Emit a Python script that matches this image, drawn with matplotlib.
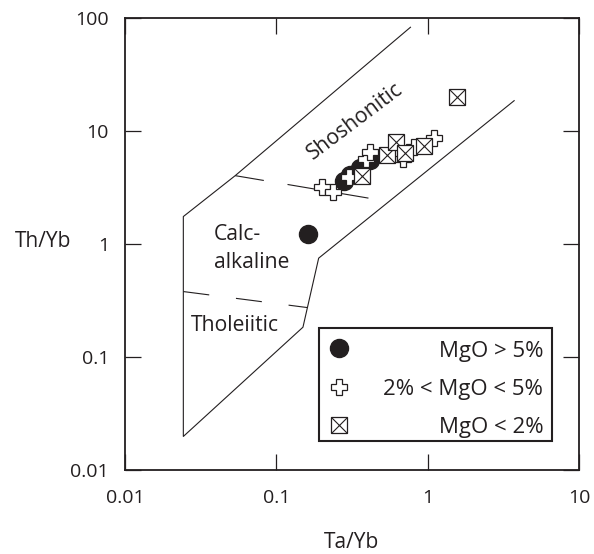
import matplotlib.pyplot as plt
from matplotlib.patches import Rectangle
from matplotlib.ticker import FixedLocator, FixedFormatter, NullLocator

plt.rcParams["font.family"] = ["Open Sans", "DejaVu Sans"]
plt.rcParams["lines.scale_dashes"] = False

INK = "#231f20"

# ---- samples (Ta/Yb, Th/Yb), grouped by MgO content
high_mgo_ta = [0.162, 0.282, 0.309, 0.36, 0.415]
high_mgo_th = [1.22, 3.60, 4.02, 4.66, 5.5]

mid_mgo_ta = [0.201, 0.2375, 0.301, 0.394, 0.419, 0.69, 0.81, 1.10]
mid_mgo_th = [3.16, 2.89, 3.93, 5.62, 6.52, 5.62, 7.23, 8.65]

low_mgo_ta = [0.369, 0.538, 0.614, 0.705, 0.945, 1.556]
low_mgo_th = [3.98, 6.10, 8.0, 6.4, 7.28, 19.7]

# ---- field boundaries (Pearce-type diagram)
outline_ta = [3.73, 0.1905, 0.150, 0.0243, 0.0243, 0.0535, 0.77]
outline_th = [18.4, 0.746, 0.183, 0.0198, 1.74, 4.0, 82.0]
sho_ca_ta = [0.0535, 0.408]
sho_ca_th = [4.0, 2.53]
ca_th_ta = [0.0243, 0.16]
ca_th_th = [0.378, 0.273]

x_ticks = [0.01, 0.1, 1, 10]
x_ticklabels = ["0.01", "0.1", "1", "10"]
y_ticks = [0.01, 0.1, 1, 10, 100]
y_ticklabels = ["0.01", "0.1", "1", "10", "100"]

legend_labels = ["MgO > 5%", "2% < MgO < 5%", "MgO < 2%"]

fig = plt.figure(figsize=(5.94, 5.54), dpi=100)
ax = fig.add_axes([0.2104, 0.1516, 0.7643, 0.8168])
ax.set_xscale("log")
ax.set_yscale("log")
ax.set_xlim(0.01, 10)
ax.set_ylim(0.01, 100)

# ---- boundaries
ax.plot(outline_ta, outline_th, color=INK, lw=0.8, zorder=1)
ax.plot(sho_ca_ta, sho_ca_th, color=INK, lw=0.8, ls=(0, (20.9, 17.3)), zorder=1)
ax.plot(ca_th_ta, ca_th_th, color=INK, lw=0.8, ls=(0, (18.8, 19.4)), zorder=1)

# ---- field names
label_kw = dict(fontsize=15.2, color=INK)
ax.text(0.333, 12.0, "Shoshonitic", rotation=37, rotation_mode="anchor",
        ha="center", va="center", **label_kw)
ax.text(0.0385, 1.08, "Calc-", ha="left", va="baseline", **label_kw)
ax.text(0.0385, 0.609, "alkaline", ha="left", va="baseline", **label_kw)
ax.text(0.0272, 0.171, "Tholeiitic", ha="left", va="baseline", **label_kw)

# ---- samples
circle_kw = dict(ls="none", marker="o", ms=13, mfc=INK, mec=INK)
cross_kw = dict(ls="none", marker="P", ms=11.8, mfc="white", mec=INK, mew=0.9)
box_kw = dict(ls="none", marker="s", ms=12, mfc="white", mec=INK, mew=0.9)
boxx_kw = dict(ls="none", marker="x", ms=12, color=INK, mew=0.8)

ax.plot(high_mgo_ta, high_mgo_th, zorder=3, **circle_kw)
ax.plot(mid_mgo_ta, mid_mgo_th, zorder=4, **cross_kw)
for i, (ta, th) in enumerate(zip(low_mgo_ta, low_mgo_th)):
    ax.plot([ta], [th], zorder=5 + 0.01 * i, **box_kw)
    ax.plot([ta], [th], zorder=5.005 + 0.01 * i, **boxx_kw)

# ---- legend box, markers left and text right-aligned
ax.add_patch(Rectangle((0.427, 0.065), 0.514, 0.248, transform=ax.transAxes,
                       facecolor="white", edgecolor=INK, lw=1.5, zorder=8))
row_marker_y = [0.2703, 0.184, 0.0994]
row_text_y = [0.2504, 0.1657, 0.0811]
styles = [[circle_kw], [cross_kw], [box_kw, boxx_kw]]
for label, my, ty, kws in zip(legend_labels, row_marker_y, row_text_y, styles):
    for kw in kws:
        ax.plot([0.4714], [my], transform=ax.transAxes, zorder=9, **kw)
    ax.text(0.9214, ty, label, transform=ax.transAxes, ha="right", va="baseline",
            fontsize=16, color=INK, zorder=9)

# ---- axes styling
ax.xaxis.set_major_locator(FixedLocator(x_ticks))
ax.xaxis.set_major_formatter(FixedFormatter(x_ticklabels))
ax.yaxis.set_major_locator(FixedLocator(y_ticks))
ax.yaxis.set_major_formatter(FixedFormatter(y_ticklabels))
ax.xaxis.set_minor_locator(NullLocator())
ax.yaxis.set_minor_locator(NullLocator())
ax.tick_params(which="major", direction="in", length=11.5, width=0.9, color=INK,
               top=True, right=True, labelsize=14, labelcolor=INK)
ax.tick_params(axis="x", pad=13.5)
ax.tick_params(axis="y", pad=11.5)
for sp in ax.spines.values():
    sp.set_linewidth(1.3)
    sp.set_color(INK)

ax.set_xlabel("Ta/Yb", fontsize=15, color=INK, va="baseline")
ax.xaxis.set_label_coords(0.5, -0.1724)
ax.set_ylabel("Th/Yb", fontsize=15, color=INK, rotation=0, ha="center", va="baseline")
ax.yaxis.set_label_coords(-0.18, 0.4935)

fig.savefig("out.png", dpi=100)
